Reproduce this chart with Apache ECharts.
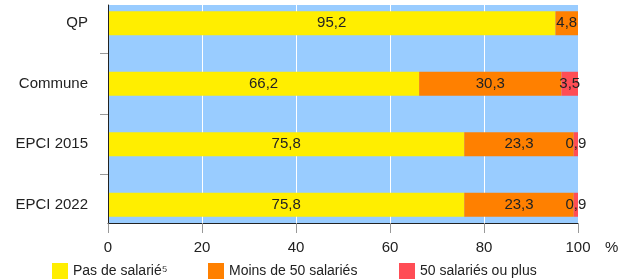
<!DOCTYPE html>
<html>
<head>
<meta charset="utf-8">
<script src="https://cdn.jsdelivr.net/npm/echarts@6/dist/echarts.min.js"></script>
<style>
  html, body { margin: 0; padding: 0; background: #fff; }
  #chart { width: 632px; height: 279px; }
</style>
</head>
<body>
<div id="chart"></div>
<script>
// données
const categories = ['QP', 'Commune', 'EPCI 2015', 'EPCI 2022'];
const pasDeSalarie = [95.2, 66.2, 75.8, 75.8];
const moinsDe50 = [4.8, 30.3, 23.3, 23.3];
const cinquanteOuPlus = [null, 3.5, 0.9, 0.9];
const seriesNames = ['Pas de salarié⁵', 'Moins de 50 salariés', '50 salariés ou plus'];
const colors = ['#ffee00', '#ff8000', '#ff4d55'];

const font = 'Liberation Sans, Arial, sans-serif';
const chart = echarts.init(document.getElementById('chart'));

function fmt(p) {
  return p.value == null ? '' : p.value.toFixed(1).replace('.', ',');
}

function barSerie(i, data) {
  return {
    name: seriesNames[i],
    type: 'bar',
    stack: 'total',
    xAxisIndex: 0,
    yAxisIndex: 0,
    barWidth: 24,
    itemStyle: { color: colors[i] },
    label: {
      show: true,
      position: 'inside',
      color: '#222',
      fontSize: 15,
      fontFamily: font,
      formatter: fmt
    },
    data: data
  };
}

function legendItem(i, left) {
  return {
    left: left,
    top: 263,
    padding: 0,
    icon: 'rect',
    itemWidth: 16,
    itemHeight: 17,
    itemGap: 0,
    selectedMode: false,
    textStyle: { fontSize: 14, color: '#222', fontFamily: font },
    data: [seriesNames[i]]
  };
}

chart.setOption({
  animation: false,
  textStyle: { fontFamily: font },
  color: colors,
  legend: [legendItem(0, 52), legendItem(1, 208), legendItem(2, 399)],
  grid: [
    // grille des barres (bandes plus hautes que le cadre visible)
    { left: 108, right: 54, top: -7, bottom: 44, show: false, outerBoundsMode: 'none', containLabel: false },
    // cadre visible
    { left: 108, right: 54, top: 5, bottom: 56, show: true, backgroundColor: '#99ccff', borderWidth: 0, z: -1, outerBoundsMode: 'none', containLabel: false }
  ],
  xAxis: [
    { gridIndex: 0, type: 'value', min: 0, max: 100, show: false },
    {
      gridIndex: 1,
      type: 'value',
      min: 0,
      max: 100,
      interval: 20,
      name: '%',
      nameLocation: 'end',
      nameGap: 27,
      nameTextStyle: { fontSize: 15, color: '#222', verticalAlign: 'top', padding: [17, 0, 0, 0] },
      axisLine: { show: true, onZero: false, lineStyle: { color: '#222', width: 1 } },
      axisTick: { show: true, length: 10, lineStyle: { color: '#999' } },
      axisLabel: { fontSize: 15, color: '#222', margin: 17 },
      splitLine: { show: true, lineStyle: { color: '#ffffff', width: 1 } }
    }
  ],
  yAxis: [
    {
      gridIndex: 0,
      type: 'category',
      inverse: true,
      data: categories,
      axisLine: { show: false },
      axisTick: { show: false },
      axisLabel: { fontSize: 15, color: '#222', margin: 20 },
      splitLine: { show: false }
    },
    {
      gridIndex: 1,
      type: 'value',
      inverse: true,
      min: -0.3,
      max: 3.3,
      z: 5,
      axisLine: { show: true, onZero: false, lineStyle: { color: '#222', width: 1 } },
      axisTick: { show: true, length: 8, customValues: [0.5, 1.5, 2.5], lineStyle: { color: '#999' } },
      axisLabel: { show: false },
      splitLine: { show: false }
    }
  ],
  series: [
    barSerie(0, pasDeSalarie),
    barSerie(1, moinsDe50),
    barSerie(2, cinquanteOuPlus)
  ]
});
</script>
</body>
</html>
